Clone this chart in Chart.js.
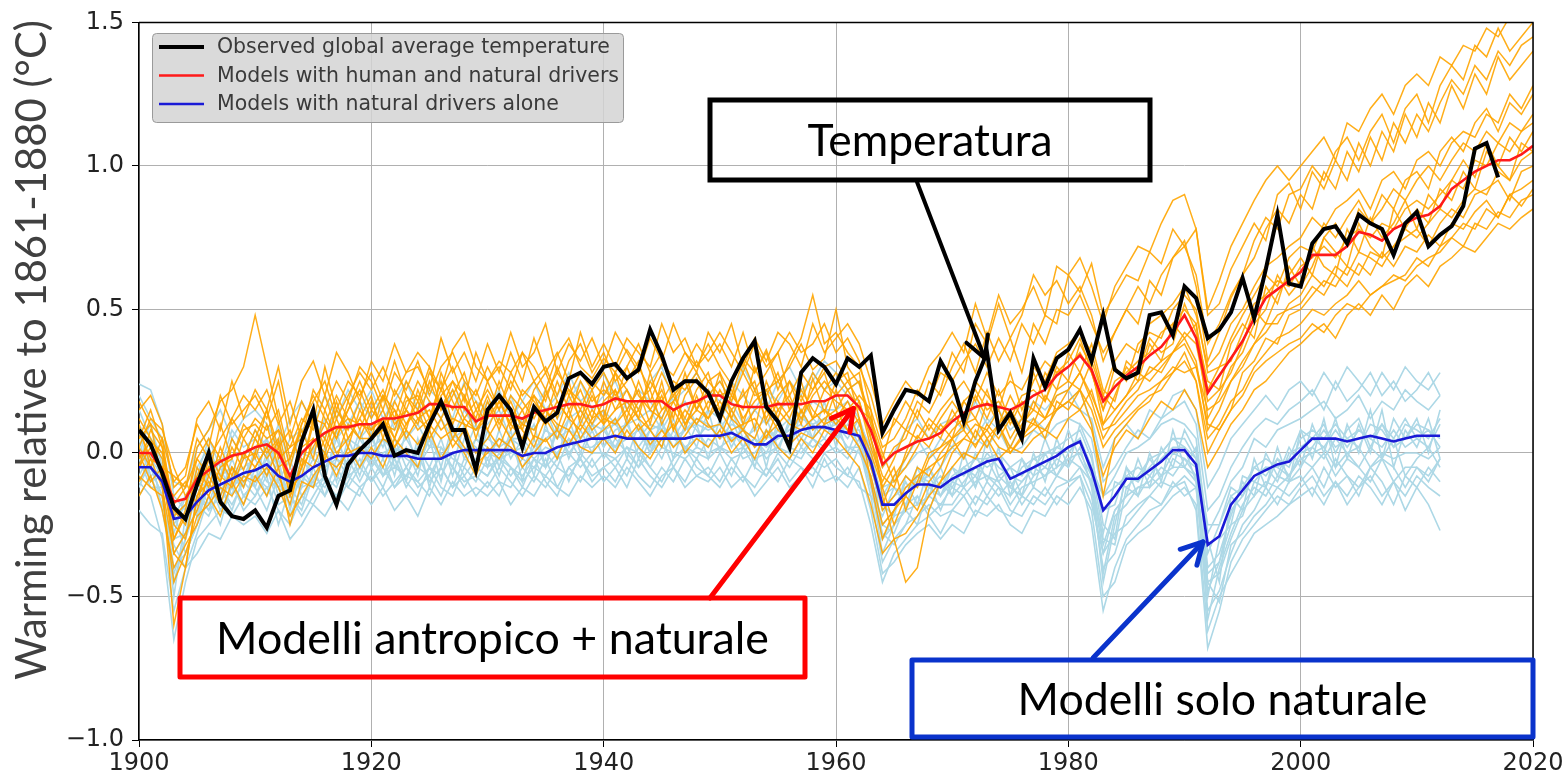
<!DOCTYPE html>
<html>
<head>
<meta charset="utf-8">
<script src="https://cdn.jsdelivr.net/npm/chart.js@4"></script>
<style>
  body { margin: 0; background: #fff; }
  #wrap { width: 1566px; height: 781px; position: relative; }
</style>
</head>
<body>
<div id="wrap"><canvas id="chart"></canvas></div>
<script>
const startYear = 1900;
const xTicks = [1900, 1920, 1940, 1960, 1980, 2000, 2020];
const yTicks = [-1.0, -0.5, 0.0, 0.5, 1.0, 1.5];

// observed global average temperature, 1900-2017
const observed = [
  .08, .03, -.07, -.19, -.23, -.11, 0, -.17, -.22, -.23,
  -.20, -.26, -.15, -.13, .04, .15, -.08, -.18, -.04, .01,
  .05, .10, -.01, .01, 0, .10, .18, .08, .08, -.06,
  .15, .20, .15, .02, .16, .11, .14, .26, .28, .24,
  .30, .31, .26, .29, .43, .34, .22, .25, .25, .21,
  .12, .25, .33, .39, .16, .11, .02, .28, .33, .30,
  .24, .33, .30, .34, .07, .15, .22, .21, .18, .32,
  .25, .11, .25, .35, .08, .14, .05, .33, .23, .33,
  .36, .43, .32, .48, .29, .26, .28, .48, .49, .41,
  .58, .54, .40, .43, .49, .61, .47, .64, .83, .59,
  .58, .73, .78, .79, .73, .83, .80, .78, .69, .80,
  .84, .72, .76, .79, .86, 1.06, 1.08, .96
];

// multi-model mean, human + natural drivers, 1900-2020
const humanNaturalMean = [
  0, 0, -.06, -.17, -.16, -.09, -.06, -.03, -.01, 0,
  .02, .03, 0, -.08, 0, .04, .07, .09, .09, .10,
  .10, .12, .12, .13, .14, .17, .17, .16, .16, .11,
  .13, .13, .13, .12, .14, .15, .16, .17, .17, .16,
  .17, .19, .18, .18, .18, .18, .15, .17, .18, .20,
  .20, .17, .16, .16, .16, .17, .17, .17, .18, .18,
  .20, .20, .16, .08, -.04, 0, .02, .04, .05, .07,
  .11, .14, .16, .17, .16, .15, .17, .20, .22, .27,
  .30, .34, .29, .18, .23, .27, .30, .34, .37, .42,
  .48, .40, .21, .27, .33, .39, .47, .54, .57, .60,
  .63, .69, .69, .69, .72, .77, .76, .74, .78, .80,
  .82, .83, .86, .92, .95, .98, 1.00, 1.02, 1.02, 1.04,
  1.07
];

// multi-model mean, natural drivers alone, 1900-2012
const naturalMean = [
  -.05, -.05, -.10, -.23, -.22, -.17, -.13, -.11, -.09, -.07,
  -.06, -.04, -.08, -.10, -.08, -.05, -.03, -.01, -.01, 0,
  0, -.01, -.01, -.01, -.02, -.02, -.02, 0, .01, .01,
  .01, .01, .01, -.01, 0, 0, .02, .03, .04, .05,
  .05, .06, .05, .05, .05, .05, .05, .05, .06, .06,
  .06, .07, .05, .03, .03, .06, .06, .08, .09, .09,
  .08, .07, .06, -.03, -.18, -.18, -.14, -.11, -.11, -.12,
  -.09, -.07, -.05, -.03, -.02, -.09, -.07, -.05, -.03, -.01,
  .02, .04, -.06, -.20, -.15, -.09, -.09, -.06, -.03, .01,
  .01, -.04, -.32, -.29, -.18, -.13, -.08, -.06, -.04, -.03,
  .01, .05, .05, .05, .04, .05, .06, .05, .04, .05,
  .06, .06, .06
];

// individual runs, human + natural drivers, 1900-2020
const humanNaturalRuns = [
  [ .12, .05, -.02, -.30, -.20, .02, .08, .18, .22, .30,
    .48, .30, .12, -.05, .10, .18, .25, .12, .20, .28,
    .22, .30, .20, .28, .35, .30, .22, .36, .42, .30,
    .25, .32, .28, .35, .30, .22, .34, .40, .30, .26,
    .33, .28, .36, .30, .22, .31, .27, .35, .30, .38,
    .30, .24, .33, .28, .36, .25, .30, .38, .29, .33,
    .50, .30, .24, .10, -.02, .12, .08, .18, .14, .22,
    .35, .28, .45, .38, .52, .40, .48, .62, .55, .60,
    .52, .58, .48, .32, .42, .50, .58, .52, .62, .68,
    .74, .58, .32, .42, .54, .62, .74, .82, .78, .90,
    .92, 1.00, .95, 1.05, 1.10, 1.02, 1.12, 1.18, 1.08, 1.20,
    1.25, 1.15, 1.28, 1.35, 1.30, 1.42, 1.38, 1.48, 1.40, 1.45,
    1.50 ],
  [ -.08, -.12, -.15, -.45, -.35, -.22, -.18, -.12, -.15, -.08,
    -.10, -.05, -.12, -.22, -.15, -.08, -.02, -.05, 0, .02,
    -.02, .05, .02, .08, .03, .10, .05, .08, .02, -.04,
    0, .05, .02, -.02, .06, .04, .08, .03, .10, .05,
    .08, .12, .05, .10, .03, .08, .02, .06, .12, .09,
    .10, .04, .08, .02, .06, .10, .03, .07, .05, .10,
    .12, .08, .02, -.08, -.25, -.20, -.12, -.08, -.05, -.02,
    .02, .05, .03, .08, .02, 0, .06, .10, .08, .15,
    .18, .22, .15, .02, .08, .12, .16, .20, .22, .28,
    .32, .25, .05, .10, .18, .22, .30, .35, .40, .42,
    .45, .50, .48, .52, .55, .60, .55, .58, .62, .60,
    .65, .68, .70, .75, .72, .80, .78, .84, .82, .88,
    .90 ],
  [ .05, .10, -.10, -.60, -.40, -.15, -.05, -.10, .05, -.02,
    .08, 0, .05, -.15, -.05, .12, .02, .15, .08, .18,
    .05, .20, .15, .08, .22, .12, .25, .10, .20, .05,
    .18, .08, .20, .15, .05, .22, .12, .25, .10, .20,
    .12, .28, .15, .22, .10, .25, .08, .20, .26, .15,
    .28, .12, .22, .08, .25, .15, .20, .10, .26, .14,
    .25, .28, .12, -.05, -.18, -.08, -.02, .06, .02, .10,
    .05, .18, .12, .22, .10, .20, .12, .28, .18, .30,
    .25, .38, .30, .10, .20, .30, .25, .38, .32, .45,
    .40, .45, .12, .20, .30, .35, .45, .50, .62, .55,
    .60, .72, .65, .62, .78, .70, .82, .75, .80, .88,
    .78, .90, .85, .95, 1.02, .96, 1.08, 1.00, 1.10, 1.05,
    1.12 ],
  [ -.02, .04, 0, -.20, -.25, -.05, -.12, .02, -.08, .05,
    -.02, .10, -.05, -.02, .08, -.02, .15, .05, .18, .08,
    .18, .08, .22, .15, .10, .25, .15, .22, .12, .18,
    .08, .18, .10, .22, .18, .12, .25, .15, .22, .12,
    .25, .15, .22, .12, .28, .15, .20, .12, .22, .28,
    .15, .25, .10, .22, .12, .20, .25, .14, .22, .28,
    .15, .22, .25, .12, 0, -.10, -.05, .02, .10, .05,
    .15, .08, .20, .12, .22, .10, .18, .15, .28, .22,
    .35, .28, .38, .22, .18, .32, .28, .40, .35, .38,
    .52, .42, .25, .22, .38, .45, .40, .58, .52, .65,
    .58, .65, .75, .70, .65, .80, .72, .68, .85, .78,
    .85, .80, .92, .88, .98, .92, 1.05, 1.00, .95, 1.08,
    1.05 ],
  [ .02, -.05, -.10, -.15, -.10, -.18, -.02, -.10, .02, -.06,
    .05, -.02, .04, -.12, -.08, .05, 0, .12, .02, .15,
    .08, .15, .05, .18, .20, .12, .22, .15, .24, .10,
    .20, .10, .18, .08, .20, .15, .08, .20, .12, .22,
    .10, .22, .12, .25, .15, .12, .22, .10, .18, .12,
    .22, .15, .20, .25, .10, .18, .12, .22, .15, .10,
    .22, .12, .18, .05, -.12, -.05, -.20, -.10, 0, .02,
    .08, .12, .05, .18, .10, .15, .08, .18, .12, .22,
    .25, .22, .32, .20, .15, .20, .28, .25, .30, .35,
    .38, .30, .15, .18, .25, .32, .38, .42, .48, .50,
    .52, .58, .55, .62, .58, .66, .62, .70, .65, .72,
    .70, .76, .72, .80, .78, .84, .88, .82, .90, .86,
    .92 ],
  [ -.05, .08, .02, -.25, -.30, -.10, -.15, -.05, -.02, .08,
    .10, .05, .08, .02, .05, .12, .10, .20, .12, .05,
    .15, .10, .08, .20, .12, .08, .20, .25, .15, .22,
    .12, .25, .15, .10, .22, .28, .18, .12, .25, .18,
    .22, .18, .30, .20, .15, .22, .12, .28, .15, .22,
    .12, .20, .15, .30, .20, .28, .15, .25, .12, .22,
    .18, .15, .20, .15, -.15, -.30, -.45, -.40, -.20, -.10,
    0, .05, .10, .08, .15, .05, .12, .10, .20, .15,
    .22, .28, .18, .05, .12, .18, .22, .30, .28, .35,
    .42, .38, .18, .22, .28, .38, .50, .45, .55, .62,
    .68, .62, .75, .80, .72, .85, .80, .90, .85, .95,
    .98, .92, 1.05, 1.10, 1.05, 1.15, 1.20, 1.12, 1.22, 1.18,
    1.25 ],
  [ .18, .10, .05, -.10, -.05, .10, .02, .20, .10, .15,
    .20, .12, .25, .05, .18, .10, .30, .15, .25, .20,
    .28, .18, .32, .20, .15, .28, .22, .30, .18, .35,
    .25, .30, .22, .35, .25, .30, .20, .32, .38, .28,
    .35, .25, .30, .38, .28, .35, .22, .30, .38, .32,
    .38, .30, .42, .28, .35, .22, .32, .40, .55, .38,
    .42, .35, .30, .20, .05, .10, .18, .12, .25, .20,
    .30, .38, .28, .42, .32, .40, .28, .45, .38, .50,
    .48, .55, .45, .35, .42, .50, .45, .60, .55, .68,
    .72, .62, .38, .45, .55, .62, .68, .78, .85, .80,
    .90, .85, .98, .92, 1.05, .98, 1.10, 1.02, 1.15, 1.08,
    1.18, 1.12, 1.22, 1.30, 1.25, 1.35, 1.30, 1.40, 1.35, 1.42,
    1.45 ],
  [ -.10, -.02, -.12, -.35, -.28, -.20, -.08, -.15, -.05, -.10,
    -.05, .02, -.08, -.18, -.02, -.05, .05, -.02, .10, .05,
    .05, .08, .15, .05, .12, .15, .08, .12, .10, 0,
    .05, .12, .05, .10, .08, .15, .10, .08, .15, .08,
    .12, .10, .15, .08, .12, .20, .08, .15, .10, .18,
    .15, .08, .10, .12, .05, .15, .10, .08, .12, .15,
    .10, .15, .05, -.02, -.20, -.15, -.08, -.12, -.02, .02,
    .05, .10, .12, .05, .10, .02, .10, .15, .12, .20,
    .22, .28, .20, .10, .15, .20, .25, .28, .32, .35,
    .40, .32, .08, .15, .25, .30, .38, .45, .45, .52,
    .55, .62, .58, .65, .62, .70, .68, .65, .72, .75,
    .78, .72, .80, .85, .82, .90, .92, .95, .88, .98,
    1.00 ],
  [ .08, -.02, -.05, -.08, -.12, -.02, .05, -.02, .12, .05,
    .12, .08, .15, -.02, .10, .20, .12, .05, .15, .22,
    .12, .20, .10, .15, .25, .18, .12, .20, .28, .15,
    .22, .15, .25, .18, .12, .20, .28, .22, .15, .25,
    .20, .28, .22, .15, .25, .18, .25, .22, .28, .20,
    .25, .18, .28, .20, .22, .12, .25, .18, .28, .22,
    .28, .22, .15, .12, -.05, .02, .05, .15, .08, .15,
    .20, .25, .18, .28, .20, .25, .22, .30, .25, .35,
    .38, .42, .35, .20, .32, .38, .35, .45, .48, .52,
    .58, .48, .30, .35, .45, .50, .58, .65, .68, .72,
    .75, .82, .78, .85, .88, .92, .85, .95, .98, .92,
    1.02, 1.05, 1.00, 1.08, 1.12, 1.10, 1.18, 1.15, 1.25, 1.20,
    1.28 ],
  [ .02, .12, .08, -.05, -.15, -.08, 0, -.08, -.12, -.02,
    0, .15, .02, .08, -.05, .10, .05, .18, .05, .12,
    .20, .05, .18, .10, .18, .08, .28, .18, .10, .08,
    .15, .20, .08, .15, .20, .10, .15, .22, .18, .10,
    .18, .22, .10, .18, .22, .10, .18, .25, .15, .25,
    .20, .22, .12, .18, .22, .25, .18, .12, .20, .25,
    .20, .25, .18, .02, -.10, -.02, .08, .05, .12, .08,
    .12, .18, .22, .15, .18, .12, .20, .22, .18, .28,
    .30, .35, .28, .15, .25, .28, .32, .35, .42, .45,
    .50, .45, .22, .30, .32, .42, .52, .55, .60, .58,
    .65, .68, .72, .68, .75, .78, .75, .80, .78, .85,
    .88, .85, .90, .95, .92, 1.02, 1.00, 1.08, 1.05, 1.12,
    1.15 ],
  [ .15, .20, .10, -.12, -.08, .12, .18, .08, .25, .12,
    .22, .15, .30, .10, .25, .32, .20, .35, .28, .18,
    .32, .25, .38, .28, .30, .22, .40, .28, .35, .25,
    .38, .28, .42, .30, .35, .45, .28, .38, .32, .40,
    .30, .42, .35, .28, .40, .32, .45, .35, .28, .42,
    .35, .45, .30, .40, .32, .42, .38, .30, .45, .35,
    .40, .45, .38, .25, .10, .18, .25, .20, .30, .35,
    .42, .35, .52, .40, .55, .45, .50, .58, .48, .65,
    .62, .56, .66, .48, .55, .62, .60, .70, .66, .78,
    .72, .78, .48, .52, .64, .72, .80, .74, .90, .94,
    .85, .98, .92, 1.02, .95, 1.08, 1.00, 1.12, 1.05, 1.18,
    1.10, 1.22, 1.15, 1.28, 1.20, 1.32, 1.25, 1.38, 1.30, 1.35,
    1.40 ],
  [ -.15, -.08, -.20, -.40, -.32, -.25, -.15, -.22, -.10, -.18,
    -.08, -.15, -.05, -.25, -.10, -.12, 0, -.08, .02, -.05,
    .02, -.05, .05, 0, -.05, .08, -.02, .05, 0, -.08,
    .02, -.02, .05, -.05, 0, .05, -.02, .08, .02, 0,
    .05, 0, .08, .02, -.02, .05, .10, 0, .05, .02,
    .08, 0, .05, -.02, .08, .02, -.02, .05, 0, .08,
    .05, 0, -.05, -.18, -.35, -.30, -.28, -.22, -.15, -.10,
    -.05, 0, -.02, .05, -.02, .02, 0, .05, .08, .05,
    .12, .15, .08, -.08, .02, .08, .05, .12, .18, .15,
    .22, .15, -.05, .02, .10, .15, .22, .25, .30, .35,
    .38, .42, .45, .40, .48, .52, .48, .55, .50, .58,
    .62, .58, .65, .68, .72, .70, .75, .80, .78, .82,
    .85 ],
  [ .10, -.05, .05, -.22, -.18, -.02, -.08, .10, -.02, .10,
    .05, .15, -.02, .02, .12, .08, .20, .08, .15, .25,
    .15, .22, .12, .25, .18, .30, .15, .25, .20, .12,
    .25, .15, .28, .20, .25, .18, .30, .20, .28, .22,
    .28, .20, .25, .32, .18, .28, .20, .25, .32, .25,
    .28, .20, .32, .22, .28, .35, .20, .28, .22, .30,
    .32, .25, .28, .05, -.08, -.12, 0, .10, .05, .12,
    .18, .12, .25, .20, .15, .28, .15, .25, .32, .28,
    .32, .40, .28, .15, .30, .25, .38, .42, .40, .50,
    .55, .50, .28, .30, .40, .48, .55, .62, .58, .68,
    .72, .70, .80, .75, .82, .88, .80, .85, .92, .88,
    .95, 1.00, .95, 1.02, 1.08, 1.05, 1.12, 1.08, 1.15, 1.12,
    1.18 ],
  [ -.05, .02, -.08, -.30, -.22, -.12, -.05, -.02, -.10, 0,
    -.05, .02, .08, -.10, .02, .05, -.02, .08, .12, .10,
    .08, .12, .05, .15, .08, .12, .18, .05, .12, .08,
    .12, .18, .10, .05, .15, .10, .18, .12, .08, .15,
    .10, .15, .18, .12, .08, .15, .18, .10, .15, .12,
    .18, .12, .08, .15, .18, .10, .15, .20, .12, .15,
    .12, .18, .10, 0, -.12, -.25, -.15, -.05, -.08, 0,
    .05, .08, .02, .10, .05, .12, .05, .08, .12, .15,
    .18, .15, .22, .08, .10, .15, .20, .22, .25, .30,
    .28, .30, .10, .08, .15, .20, .28, .32, .35, .38,
    .40, .45, .42, .48, .52, .50, .55, .58, .60, .62,
    .68, .65, .72, .75, .80, .78, .85, .82, .90, .92,
    .95 ],
  [ .05, .15, .02, -.18, -.12, .05, -.02, .05, .12, .20,
    .15, .22, .10, .18, .05, .22, .15, .25, .18, .30,
    .25, .15, .28, .22, .32, .20, .30, .35, .25, .20,
    .30, .22, .35, .25, .40, .28, .35, .25, .42, .30,
    .38, .30, .40, .35, .30, .45, .35, .40, .30, .35,
    .42, .35, .28, .38, .30, .35, .42, .35, .38, .45,
    .35, .40, .32, .15, .02, .05, .12, .22, .18, .28,
    .25, .32, .38, .30, .40, .32, .45, .38, .48, .45,
    .62, .68, .58, .45, .58, .65, .72, .70, .80, .88,
    .90, .78, .50, .60, .72, .80, .88, .95, 1.00, .95,
    1.00, 1.05, 1.10, 1.02, 1.15, 1.12, 1.20, 1.25, 1.18, 1.28,
    1.32, 1.28, 1.38, 1.35, 1.42, 1.40, 1.48, 1.45, 1.52, 1.50,
    1.55 ],
  [ 0, -.10, -.05, -.35, -.40, -.15, -.10, -.18, -.05, -.12,
    0, -.08, .02, -.15, -.05, .02, .10, 0, .05, .12,
    .05, .12, .02, .10, .15, .05, .12, .02, .08, .15,
    .08, .02, .12, .08, .02, .12, .05, .15, .05, .12,
    .15, .05, .10, .15, .08, .02, .15, .08, .20, .10,
    .05, .15, .08, .05, .15, .08, .05, .15, .08, .12,
    .15, .08, .12, -.10, -.30, -.20, -.15, -.20, -.10, -.05,
    .05, -.02, .08, .02, .10, 0, .05, .12, .05, .18,
    .15, .22, .10, -.15, .05, .10, .15, .18, .25, .28,
    .35, .25, 0, .08, .15, .28, .32, .40, .38, .48,
    .50, .55, .60, .58, .65, .62, .70, .68, .72, .78,
    .75, .80, .85, .82, .88, .92, .90, .98, .95, 1.02,
    1.05 ]
];

// individual runs, natural drivers alone, 1900-2012
const naturalRuns = [
  [ .24, .22, .10, -.15, -.20, -.05, .02, -.08, .05, -.02,
    .08, .02, -.05, .05, .08, .12, .05, .15, .10, .18,
    .12, .20, .08, .15, .10, .18, .12, .22, .15, .10,
    .18, .12, .20, .10, .15, .22, .12, .18, .25, .15,
    .20, .25, .15, .22, .18, .12, .20, .25, .15, .22,
    .18, .25, .20, .15, .22, .18, .25, .20, .28, .22,
    .25, .20, .18, .05, -.12, -.10, -.02, .05, -.02, .05,
    .02, .10, .05, .12, .08, .02, .10, .12, .08, .15,
    .18, .22, .10, -.10, -.05, .02, .08, .05, .12, .15,
    .18, .10, -.20, -.15, -.05, .02, .08, .12, .10, .15,
    .18, .22, .15, .25, .18, .22, .28, .20, .25, .18,
    .22, .28, .20 ],
  [ -.10, -.15, -.30, -.65, -.45, -.30, -.25, -.20, -.22, -.15,
    -.18, -.12, -.20, -.25, -.15, -.18, -.10, -.15, -.08, -.12,
    -.08, -.15, -.10, -.05, -.12, -.08, -.15, -.05, -.10, -.08,
    -.12, -.05, -.10, -.15, -.08, -.12, -.05, -.08, -.02, -.10,
    -.05, -.10, -.02, -.08, -.12, -.05, -.10, -.02, -.08, -.05,
    -.10, -.02, -.08, -.12, -.05, -.10, -.02, -.05, -.08, 0,
    -.05, -.08, -.10, -.25, -.45, -.35, -.30, -.25, -.22, -.28,
    -.20, -.22, -.15, -.18, -.12, -.20, -.22, -.15, -.18, -.12,
    -.10, -.08, -.25, -.55, -.40, -.30, -.25, -.20, -.18, -.12,
    -.10, -.20, -.68, -.55, -.38, -.30, -.25, -.20, -.15, -.18,
    -.12, -.08, -.15, -.10, -.18, -.12, -.08, -.15, -.10, -.20,
    -.12, -.18, -.27 ],
  [ 0, -.05, -.15, -.35, -.28, -.10, -.18, -.05, -.15, 0,
    -.12, 0, -.15, -.05, -.12, .02, -.08, .05, -.05, .08,
    -.05, .05, -.08, .08, -.05, .05, -.10, .08, 0, .10,
    -.05, .08, -.02, .05, -.08, .10, -.02, .12, 0, .10,
    .02, .12, -.02, .10, 0, .12, -.02, .10, .02, .15,
    0, .12, .02, .10, -.05, .12, 0, .15, .05, .18,
    .02, .15, .05, -.10, -.25, -.20, -.10, -.18, -.05, -.15,
    -.05, -.12, 0, -.10, .02, -.15, -.02, -.08, .05, -.05,
    .08, -.02, -.10, -.35, -.20, -.15, -.02, -.12, .02, -.05,
    .08, 0, -.40, -.35, -.22, -.10, -.15, 0, -.08, .02,
    -.05, .10, 0, .12, -.02, .10, 0, .15, -.05, .08,
    .02, .12, -.02 ],
  [ -.15, -.08, -.05, -.20, -.35, -.25, -.10, -.20, -.12, -.18,
    -.05, -.15, -.02, -.20, -.05, -.12, .02, -.10, .05, -.05,
    .08, -.08, .02, -.10, .05, -.12, .02, -.05, .10, -.05,
    .08, -.05, .08, -.10, .05, -.05, .10, -.02, .08, 0,
    .10, 0, .12, -.02, .08, .02, .12, 0, .10, -.02,
    .12, .02, .10, -.05, .08, 0, .12, .02, .10, .05,
    .12, 0, .10, .02, -.30, -.25, -.20, -.05, -.15, -.05,
    -.15, 0, -.12, .05, -.08, -.05, -.15, 0, -.10, .05,
    -.05, .10, 0, -.25, -.30, -.05, -.15, 0, -.10, .08,
    -.05, .02, -.30, -.45, -.15, -.20, -.02, -.12, .02, -.10,
    .08, -.02, .12, -.05, .10, 0, .15, -.02, .12, .05,
    .12, 0, .15 ],
  [ .10, .02, -.02, -.28, -.15, -.22, -.05, -.15, -.02, -.12,
    .02, -.08, .05, -.12, 0, -.02, -.10, .08, -.08, .05,
    -.02, .10, -.05, .02, -.08, .08, -.05, .10, -.02, .05,
    .02, -.08, .05, .02, .10, -.05, .08, .02, .12, .05,
    .08, .02, .10, .12, .02, .10, .05, .12, .08, .02,
    .08, .15, .05, .08, .12, .02, .10, .15, .08, .12,
    .05, .12, .02, -.15, -.22, -.12, -.18, -.08, -.10, -.20,
    -.10, -.05, -.12, -.02, -.10, -.05, -.02, -.12, 0, -.08,
    0, .05, -.05, -.28, -.10, -.12, -.08, -.02, -.08, 0,
    -.02, -.08, -.50, -.30, -.25, -.08, -.10, -.05, -.10, 0,
    .02, .05, .10, 0, .08, .12, .02, .10, .05, .12,
    .05, .02, .10 ],
  [ -.08, 0, -.20, -.42, -.30, -.18, -.22, -.12, -.18, -.10,
    -.15, -.05, -.18, -.15, -.20, -.08, -.12, -.05, -.12, -.05,
    -.10, -.05, -.12, -.08, 0, -.10, -.05, -.12, -.02, -.05,
    -.08, 0, -.05, -.10, -.05, 0, -.05, .05, -.02, .08,
    -.02, .05, 0, -.05, .05, -.02, .08, .02, -.02, .05,
    .02, .05, -.02, 0, .05, .08, .02, 0, .05, .02,
    .08, .02, 0, -.08, -.25, -.28, -.18, -.15, -.20, -.10,
    -.15, -.10, -.05, -.08, -.12, -.15, -.10, -.05, -.08, -.02,
    -.05, .02, -.12, -.42, -.22, -.18, -.12, -.10, -.05, -.08,
    -.02, -.05, -.58, -.40, -.28, -.18, -.12, -.15, -.08, -.10,
    -.05, .02, -.02, .05, 0, -.05, .02, -.02, .05, -.08,
    -.02, .02, -.05 ],
  [ .05, -.10, -.08, -.18, -.25, -.15, -.20, -.08, -.05, -.15,
    -.10, .05, -.10, -.02, -.15, -.10, 0, -.05, .02, -.08,
    .05, -.02, .05, -.05, .02, -.05, .05, -.08, .05, .02,
    -.02, .05, .02, -.05, .02, .05, .08, 0, .05, .10,
    .02, .08, .10, .02, .08, .10, .02, .08, .12, .10,
    .05, .10, .08, .05, 0, .08, .12, .05, .12, .08,
    .10, .05, .12, 0, -.18, -.22, -.08, -.12, -.05, -.12,
    -.05, -.08, -.02, -.05, -.02, -.12, -.05, -.02, -.05, .02,
    .05, .08, -.02, -.20, -.18, -.05, -.10, -.05, 0, .05,
    .05, -.02, -.35, -.25, -.12, -.15, -.05, -.08, -.02, -.05,
    .05, .08, .05, .10, .05, .02, .10, .08, .02, .10,
    .08, .05, .12 ],
  [ -.02, -.12, -.12, -.50, -.22, -.12, -.05, -.18, -.08, -.05,
    -.02, -.10, -.12, -.08, -.10, -.02, -.05, -.02, -.05, .02,
    -.05, 0, .02, -.02, -.05, .02, .02, -.02, -.05, .05,
    0, -.02, 0, .02, -.02, .02, 0, .05, .02, .02,
    .05, .02, .05, .08, 0, .08, .05, .02, .05, .10,
    .05, .08, .02, .05, .02, .05, .08, .10, .05, .10,
    .05, .10, .05, -.05, -.20, -.15, -.12, -.10, -.08, -.15,
    -.08, -.05, -.08, 0, -.05, -.08, -.10, -.05, 0, 0,
    .02, .05, -.08, -.45, -.25, -.08, -.05, -.08, -.02, .02,
    .02, -.10, -.48, -.38, -.20, -.15, -.08, -.05, -.05, -.08,
    0, .02, .08, .02, .05, .08, .05, .02, .08, .02,
    .05, .08, .02 ],
  [ .15, .05, 0, -.25, -.18, -.10, -.12, -.02, -.12, -.08,
    0, .05, -.05, -.15, -.02, -.08, -.05, .02, .05, .02,
    .02, .05, 0, .05, -.02, .05, -.02, .05, .08, 0,
    .05, .02, .05, .05, 0, .08, .05, .08, .05, .10,
    .08, .10, .05, .05, .10, .08, .05, .08, .10, .08,
    .10, .05, .08, .02, .08, .05, .08, .12, .10, .12,
    .10, .08, .08, -.05, -.15, -.12, -.15, -.08, -.12, -.08,
    -.12, -.05, -.02, -.02, 0, -.05, -.08, -.02, 0, .02,
    0, .05, -.05, -.15, -.12, -.08, -.10, -.02, 0, .05,
    .02, -.02, -.25, -.25, -.15, -.12, -.05, -.02, -.05, -.02,
    .08, .05, .02, .08, .02, .08, .05, .10, .02, .05,
    .10, .08, .05 ],
  [ -.12, -.02, -.08, -.30, -.28, -.20, -.12, -.15, -.05, -.10,
    -.08, -.12, -.10, -.18, -.08, -.12, -.08, -.12, -.02, -.10,
    -.02, -.08, -.05, -.08, -.10, -.05, -.08, 0, -.08, -.02,
    -.05, -.02, -.08, -.02, -.05, -.08, -.02, 0, -.05, 0,
    0, -.02, .02, 0, -.05, .02, 0, -.02, .02, 0,
    .02, 0, .02, -.02, 0, .02, -.02, .05, .02, .05,
    0, .02, .02, -.10, -.35, -.25, -.20, -.18, -.15, -.18,
    -.12, -.15, -.10, -.08, -.10, -.18, -.12, -.10, -.08, -.05,
    -.02, 0, -.08, -.32, -.20, -.15, -.12, -.12, -.08, -.05,
    -.05, -.08, -.45, -.42, -.30, -.20, -.15, -.10, -.12, -.08,
    -.02, 0, .02, -.05, 0, .02, -.05, 0, -.02, 0,
    0, -.02, .02 ],
  [ .20, .12, .05, -.10, -.12, .02, .08, .15, .05, .12,
    .15, .10, .02, .12, .18, .10, .20, .12, .22, .15,
    .22, .12, .18, .25, .15, .22, .18, .12, .25, .18,
    .15, .22, .12, .18, .25, .15, .20, .28, .18, .22,
    .28, .18, .22, .15, .25, .30, .18, .22, .28, .20,
    .25, .18, .30, .22, .15, .25, .30, .22, .25, .32,
    .28, .22, .25, .10, -.05, 0, .08, .12, .05, .10,
    .12, .08, .18, .10, .15, .08, .12, .18, .15, .20,
    .22, .15, .12, -.05, .05, .10, .05, .15, .12, .20,
    .22, .15, -.12, -.05, .05, .10, .15, .20, .15, .22,
    .25, .20, .28, .22, .30, .25, .20, .28, .22, .30,
    .25, .22, .28 ],
  [ -.20, -.25, -.28, -.55, -.40, -.35, -.28, -.30, -.22, -.25,
    -.22, -.28, -.20, -.30, -.25, -.18, -.22, -.15, -.20, -.12,
    -.18, -.12, -.20, -.15, -.22, -.12, -.18, -.10, -.15, -.12,
    -.15, -.10, -.18, -.12, -.15, -.08, -.12, -.15, -.08, -.12,
    -.08, -.12, -.05, -.10, -.15, -.08, -.05, -.12, -.08, -.10,
    -.05, -.12, -.08, -.15, -.10, -.05, -.12, -.08, -.05, -.10,
    -.08, -.12, -.05, -.20, -.42, -.38, -.32, -.28, -.25, -.30,
    -.25, -.28, -.20, -.22, -.18, -.25, -.28, -.20, -.22, -.15,
    -.18, -.12, -.20, -.50, -.45, -.32, -.28, -.25, -.20, -.15,
    -.12, -.18, -.62, -.50, -.42, -.35, -.28, -.25, -.22, -.18,
    -.15, -.12, -.18, -.10, -.15, -.08, -.12, -.18, -.10, -.15,
    -.08, -.12, -.15 ],
  [ -.05, .05, -.12, -.40, -.35, -.25, -.05, -.12, -.20, -.08,
    -.12, -.20, -.08, -.15, -.22, -.15, -.08, -.18, -.10, -.02,
    -.10, -.02, -.12, -.05, -.10, -.15, -.05, -.12, -.08, -.15,
    -.10, -.15, -.05, -.12, -.02, -.10, -.15, -.05, -.10, -.02,
    -.10, -.05, -.12, -.02, -.08, -.12, -.05, -.10, -.02, -.08,
    -.12, -.05, -.10, -.02, -.08, -.02, -.10, -.05, -.12, -.02,
    -.10, -.05, -.12, -.15, -.38, -.30, -.25, -.15, -.22, -.18,
    -.18, -.12, -.18, -.10, -.15, -.10, -.18, -.12, -.15, -.08,
    -.10, -.05, -.15, -.40, -.35, -.22, -.18, -.15, -.10, -.12,
    -.08, -.12, -.55, -.48, -.35, -.25, -.20, -.12, -.18, -.10,
    -.08, -.15, -.05, -.12, -.08, -.15, -.05, -.10, -.18, -.08,
    -.12, -.05, -.10 ],
  [ .08, -.08, -.18, -.32, -.40, -.28, -.15, -.25, -.10, -.20,
    -.15, -.08, -.25, -.12, -.18, -.05, -.15, -.08, -.12, -.15,
    -.05, -.12, -.02, -.10, -.15, -.05, -.12, -.15, -.05, -.10,
    -.02, -.10, -.12, -.05, -.10, -.02, -.12, -.05, -.02, -.08,
    -.05, -.02, -.08, .02, -.05, -.10, -.02, .02, -.05, -.08,
    0, -.08, .02, -.05, -.08, 0, -.05, .02, -.02, -.05,
    -.02, -.08, .02, -.12, -.28, -.32, -.25, -.22, -.18, -.22,
    -.20, -.15, -.22, -.15, -.20, -.22, -.15, -.18, -.12, -.18,
    -.12, -.08, -.18, -.35, -.28, -.25, -.20, -.15, -.18, -.10,
    -.15, -.12, -.45, -.52, -.32, -.28, -.22, -.18, -.12, -.15,
    -.10, -.05, -.12, -.02, -.08, -.12, -.05, -.02, -.10, -.05,
    -.05, -.10, -.02 ],
  [ .02, .10, -.05, -.22, -.15, -.08, .05, -.05, .08, .02,
    .05, -.02, .10, -.05, .08, 0, .12, .05, .10, .05,
    .10, .02, .12, .05, .10, .02, .12, .05, .15, .08,
    .10, .15, .05, .12, .08, .15, .05, .12, .15, .10,
    .15, .10, .18, .12, .15, .08, .15, .18, .10, .15,
    .12, .18, .10, .15, .10, .15, .18, .12, .18, .15,
    .15, .18, .12, -.02, -.15, -.08, -.05, 0, .02, -.05,
    .02, -.02, .05, .02, .08, 0, .02, .08, .05, .10,
    .12, .10, .05, -.15, -.08, 0, .02, .05, .10, .12,
    .10, .05, -.28, -.20, -.10, -.05, .05, .02, .08, .10,
    .12, .15, .18, .12, .15, .20, .12, .18, .15, .22,
    .18, .15, .20 ],
  [ -.10, -.05, -.15, -.45, -.30, -.12, -.20, -.15, -.05, -.15,
    -.10, -.02, -.12, -.22, -.12, -.10, -.15, -.02, -.08, -.05,
    0, -.08, -.02, -.12, -.05, -.08, 0, -.05, -.12, -.05,
    -.08, -.02, -.05, -.08, -.02, -.05, 0, -.10, 0, -.05,
    0, -.05, .02, -.05, 0, .05, -.05, .02, 0, -.02,
    .02, -.02, 0, .05, -.02, .02, 0, -.02, .05, 0,
    .02, -.02, .05, -.10, -.30, -.22, -.20, -.25, -.12, -.15,
    -.10, -.12, -.08, -.15, -.08, -.12, -.15, -.08, -.05, -.08,
    -.02, -.05, -.10, -.30, -.32, -.12, -.15, -.08, -.12, -.02,
    -.05, -.10, -.42, -.38, -.25, -.22, -.10, -.12, -.02, -.08,
    -.02, -.05, 0, -.08, -.02, -.05, -.10, -.02, -.05, -.12,
    -.05, -.08, -.02 ]
];

const legendLabels = [
  'Observed global average temperature',
  'Models with human and natural drivers',
  'Models with natural drivers alone'
];
const legendColors = ['#000000', '#ff1a1a', '#1a1ad6'];

function toPoints(values) {
  return values.map((v, i) => ({ x: startYear + i, y: v }));
}

const datasets = [];
datasets.push({ data: toPoints(observed), borderColor: '#000', borderWidth: 4 });
datasets.push({ data: toPoints(humanNaturalMean), borderColor: '#ff1a1a', borderWidth: 2.6 });
datasets.push({ data: toPoints(naturalMean), borderColor: '#1a1ad6', borderWidth: 2.6 });
humanNaturalRuns.forEach(run => {
  datasets.push({ data: toPoints(run), borderColor: 'rgba(255,165,0,0.9)', borderWidth: 1.5 });
});
naturalRuns.forEach(run => {
  datasets.push({ data: toPoints(run), borderColor: '#add8e6', borderWidth: 1.6 });
});

function fitSize(ctx, text, width, family) {
  ctx.font = '100px ' + family;
  return 100 * width / ctx.measureText(text).width;
}

function drawArrow(ctx, x1, y1, x2, y2, color, width, head) {
  ctx.strokeStyle = color;
  ctx.lineWidth = width;
  ctx.lineCap = 'round';
  ctx.lineJoin = 'round';
  ctx.beginPath();
  ctx.moveTo(x1, y1);
  ctx.lineTo(x2, y2);
  ctx.stroke();
  const ang = Math.atan2(y2 - y1, x2 - x1);
  ctx.beginPath();
  ctx.moveTo(x2 - head * Math.cos(ang - 0.5), y2 - head * Math.sin(ang - 0.5));
  ctx.lineTo(x2, y2);
  ctx.lineTo(x2 - head * Math.cos(ang + 0.5), y2 - head * Math.sin(ang + 0.5));
  ctx.stroke();
}

function boxLabel(ctx, text, x, y, w, h, color, textWidth) {
  ctx.strokeStyle = color;
  ctx.lineWidth = 5;
  ctx.strokeRect(x, y, w, h);
  const size = fitSize(ctx, text, textWidth, 'Lato');
  ctx.font = size + 'px Lato';
  ctx.fillStyle = '#000';
  ctx.textAlign = 'center';
  ctx.textBaseline = 'middle';
  ctx.fillText(text, x + w / 2, y + h / 2 + 2);
}

const overlay = {
  id: 'overlay',
  afterDraw(chart) {
    const ctx = chart.ctx;
    const a = chart.chartArea;
    const xs = chart.scales.x;
    const ys = chart.scales.y;
    ctx.save();

    // top and right spines
    ctx.strokeStyle = '#000';
    ctx.lineWidth = 1.5;
    ctx.beginPath();
    ctx.moveTo(a.left, a.top);
    ctx.lineTo(a.right, a.top);
    ctx.lineTo(a.right, a.bottom);
    ctx.stroke();

    // y axis title
    const title = 'Warming relative to 1861-1880 (\u00b0C)';
    const ts = fitSize(ctx, title, 660, 'Lato');
    ctx.save();
    ctx.translate(33, 350);
    ctx.rotate(-Math.PI / 2);
    ctx.font = ts + 'px Lato';
    ctx.fillStyle = '#404040';
    ctx.textAlign = 'center';
    ctx.textBaseline = 'middle';
    ctx.fillText(title, 0, 0);
    ctx.restore();

    // legend
    ctx.fillStyle = 'rgba(212,212,212,0.85)';
    ctx.strokeStyle = '#9a9a9a';
    ctx.lineWidth = 1;
    ctx.beginPath();
    ctx.roundRect(152.5, 33.5, 471, 89, 4);
    ctx.fill();
    ctx.stroke();
    const ls = fitSize(ctx, legendLabels[0], 393, 'DejaVu Sans');
    ctx.font = ls + 'px DejaVu Sans';
    ctx.textAlign = 'left';
    ctx.textBaseline = 'middle';
    const widths = [4, 2.6, 2.6];
    legendLabels.forEach((lab, i) => {
      const y = 47 + i * 28.5;
      ctx.strokeStyle = legendColors[i];
      ctx.lineWidth = widths[i];
      ctx.beginPath();
      ctx.moveTo(159, y);
      ctx.lineTo(204, y);
      ctx.stroke();
      ctx.fillStyle = '#3a3a3a';
      ctx.fillText(lab, 217, y + 1);
    });

    // annotations
    boxLabel(ctx, 'Temperatura', 710, 100, 440, 80, '#000', 245);
    drawArrow(ctx, 917, 182, xs.getPixelForValue(1972.8), ys.getPixelForValue(0.33), '#000', 4, 24);

    boxLabel(ctx, 'Modelli antropico + naturale', 180, 598, 625, 79, '#ff0000', 553);
    drawArrow(ctx, 710, 598, xs.getPixelForValue(1961.5), ys.getPixelForValue(0.155), '#ff0000', 5, 24);

    boxLabel(ctx, 'Modelli solo naturale', 912, 660, 621, 77, '#0a33cc', 410);
    drawArrow(ctx, 1093, 658, xs.getPixelForValue(1991.6), ys.getPixelForValue(-0.31), '#0a33cc', 5, 24);

    ctx.restore();
  }
};

new Chart(document.getElementById('chart'), {
  type: 'line',
  data: { datasets: datasets },
  options: {
    responsive: true,
    maintainAspectRatio: false,
    animation: false,
    layout: { padding: { top: 20, right: 33, left: 0, bottom: 0 } },
    plugins: { legend: { display: false }, tooltip: { enabled: false } },
    elements: { point: { radius: 0 }, line: { tension: 0, fill: false } },
    scales: {
      x: {
        type: 'linear',
        min: xTicks[0],
        max: xTicks[xTicks.length - 1],
        afterBuildTicks(s) { s.ticks = xTicks.map(v => ({ value: v })); },
        ticks: {
          color: '#222',
          font: { family: 'DejaVu Sans', size: 24 },
          padding: 2,
          maxRotation: 0,
          callback: v => String(v)
        },
        grid: { color: '#b0b0b0', lineWidth: 1, tickColor: '#000', tickLength: 7 },
        border: { color: '#000', width: 1.5 },
        afterFit(s) { s.height = 41; }
      },
      y: {
        min: yTicks[0],
        max: yTicks[yTicks.length - 1],
        afterBuildTicks(s) { s.ticks = yTicks.map(v => ({ value: v })); },
        ticks: {
          color: '#222',
          font: { family: 'DejaVu Sans', size: 24 },
          padding: 8,
          callback: v => v.toFixed(1).replace('-', '\u2212')
        },
        grid: { color: '#b0b0b0', lineWidth: 1, tickColor: '#000', tickLength: 7 },
        border: { color: '#000', width: 1.5 },
        afterFit(s) { s.width = 139; }
      }
    }
  },
  plugins: [overlay]
});
</script>
</body>
</html>
